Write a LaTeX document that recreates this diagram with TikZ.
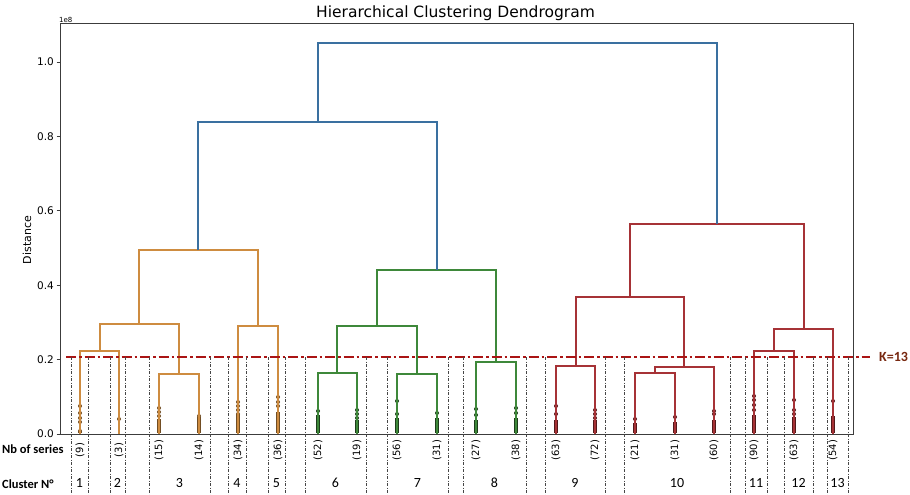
\documentclass[tikz,border=0pt]{standalone}
\usepackage{fontspec}
\setmainfont{DejaVu Sans}
\newfontfamily\calfont{Carlito}
\begin{document}
\begin{tikzpicture}[x=1pt,y=-1pt,
  link/.style={line width=1.6pt,line join=miter},
  axisline/.style={line width=1pt,draw={rgb,255:red,60;green,60;blue,60}},
  kline/.style={line width=2.6pt,draw={rgb,255:red,170;green,20;blue,20},dash pattern=on 10pt off 3pt on 2.5pt off 3pt},
  divider/.style={line width=0.8pt,draw={rgb,255:red,70;green,70;blue,70},dash pattern=on 3pt off 1.5pt on 1pt off 1.5pt},
  ticklabel/.style={font=\fontsize{10.5}{12}\selectfont,anchor=east,inner sep=0pt},
  leaflabel/.style={font=\fontsize{10}{12}\selectfont,rotate=90,inner sep=0pt},
  clusnum/.style={font=\calfont\fontsize{14}{16}\selectfont,inner sep=0pt},
  rowlabel/.style={font=\calfont\bfseries\fontsize{12.5}{14}\selectfont,anchor=west,inner sep=0pt}]
\definecolor{corange}{RGB}{206,140,64}
\definecolor{cgreen}{RGB}{62,136,58}
\definecolor{cred}{RGB}{166,50,54}
\definecolor{cblue}{RGB}{58,112,160}
\definecolor{kcol}{RGB}{120,40,16}
\useasboundingbox[fill=white] (0,0) rectangle (910,495);
% link macro: x1 x2 yleft yright ytop
\newcommand\lnk[6]{\draw[link,#6] (#1,#3) -- (#1,#5) -- (#2,#5) -- (#2,#4);}
% leaf markers
\newcommand\leafdots[4]{%
  \foreach \yy in {#2} {\fill[#4] (#1,\yy) circle (2pt);}
  \draw[#4,line width=3.8pt] (#1,#3) -- (#1,432.5);}
% title
\node[font=\fontsize{15.5}{18}\selectfont,inner sep=0pt] (title) at (455.5,13.5) {Hierarchical Clustering Dendrogram};
\node[font=\fontsize{7}{8}\selectfont,anchor=west,inner sep=0pt] (exp) at (59,19.5) {1e8};
\node[font=\fontsize{11}{13}\selectfont,rotate=90,inner sep=0pt] (ylab) at (27,240) {Distance};
% ticks
\foreach \v/\yy in {0.0/434,0.2/359.6,0.4/285.2,0.6/210.8,0.8/136.4,1.0/62}{
  \draw[axisline,line width=0.8pt] (56.5,\yy) -- (60,\yy);
  \node[ticklabel] at (54,\yy) {\v};
}
% leaf markers
\leafdots{80}{406,413,418,422,431}{431}{corange!55!black}
\leafdots{119}{419}{432.5}{corange!55!black}
\leafdots{159}{408,412,416}{419}{corange!55!black}
\leafdots{199}{416,420,424}{417}{corange!55!black}
\leafdots{238}{402,406,410,414}{414}{corange!55!black}
\leafdots{278}{397,402,406}{412}{corange!55!black}
\leafdots{318}{411}{415}{cgreen!45!black}
\leafdots{357}{410,414,418}{420}{cgreen!45!black}
\leafdots{397}{401,414}{418}{cgreen!45!black}
\leafdots{437}{413}{418}{cgreen!45!black}
\leafdots{476}{409,415}{420}{cgreen!45!black}
\leafdots{516}{408,413}{418}{cgreen!45!black}
\leafdots{556}{406,414}{420}{cred!50!black}
\leafdots{595}{410,414,418}{420}{cred!50!black}
\leafdots{635}{419}{423}{cred!50!black}
\leafdots{675}{417}{422}{cred!50!black}
\leafdots{714}{411,414}{420}{cred!50!black}
\leafdots{754}{396,400,405,410}{415}{cred!50!black}
\leafdots{794}{400,410,414}{417}{cred!50!black}
\leafdots{833}{401}{416}{cred!50!black}
% orange cluster
\lnk{80}{119}{434}{434}{351}{corange}
\lnk{159}{199}{434}{434}{374}{corange}
\lnk{100}{179}{351}{374}{324}{corange}
\lnk{238}{278}{434}{434}{326}{corange}
\lnk{139}{258}{324}{326}{250}{corange}
% green cluster
\lnk{318}{357}{434}{434}{373}{cgreen}
\lnk{397}{437}{434}{434}{374}{cgreen}
\lnk{337}{417}{373}{374}{326}{cgreen}
\lnk{476}{516}{434}{434}{362}{cgreen}
\lnk{377}{496}{326}{362}{270}{cgreen}
% red cluster
\lnk{556}{595}{434}{434}{366}{cred}
\lnk{635}{675}{434}{434}{373}{cred}
\lnk{655}{714}{373}{434}{367}{cred}
\lnk{576}{684}{366}{367}{297}{cred}
\lnk{754}{794}{434}{434}{351}{cred}
\lnk{774}{833}{351}{434}{329}{cred}
\lnk{630}{804}{297}{329}{224}{cred}
% blue
\lnk{198}{437}{250}{270}{122}{cblue}
\lnk{318}{717}{122}{224}{43}{cblue}
% axes frame
\draw[axisline] (60,24) rectangle (853,434);
% K line
\draw[kline] (66,357) -- (870,357);
\node[font=\calfont\bfseries\fontsize{14}{16}\selectfont,text=kcol,anchor=west,inner sep=0pt] (k) at (879,356.5) {K=13};
% dividers
\foreach \xx in {71,88,110,125,149,210,228,246,268,285,305,366,387,448,463,526,545,605,624,730,745,767,784,813,827,848}{
  \draw[divider] (\xx,357) -- (\xx,495);
}
% leaf labels
\foreach \xx/\n in {80/9,119/3,159/15,199/14,238/34,278/36,318/52,357/19,397/56,437/31,476/27,516/38,556/63,595/72,635/21,675/31,714/60,754/90,794/63,833/54}{
  \node[leaflabel] at (\xx,450) {(\n)};
}
\node[rowlabel] (nb) at (2,449) {Nb of series};
\node[rowlabel] (cn) at (2,484) {Cluster N°};
\foreach \xx/\n in {79.5/1,117.5/2,179.5/3,237/4,276.5/5,335.5/6,417.5/7,494.5/8,575/9,677/10,756/11,798.5/12,837.5/13}{
  \node[clusnum] at (\xx,483) {\n};
}
\end{tikzpicture}
\end{document}
